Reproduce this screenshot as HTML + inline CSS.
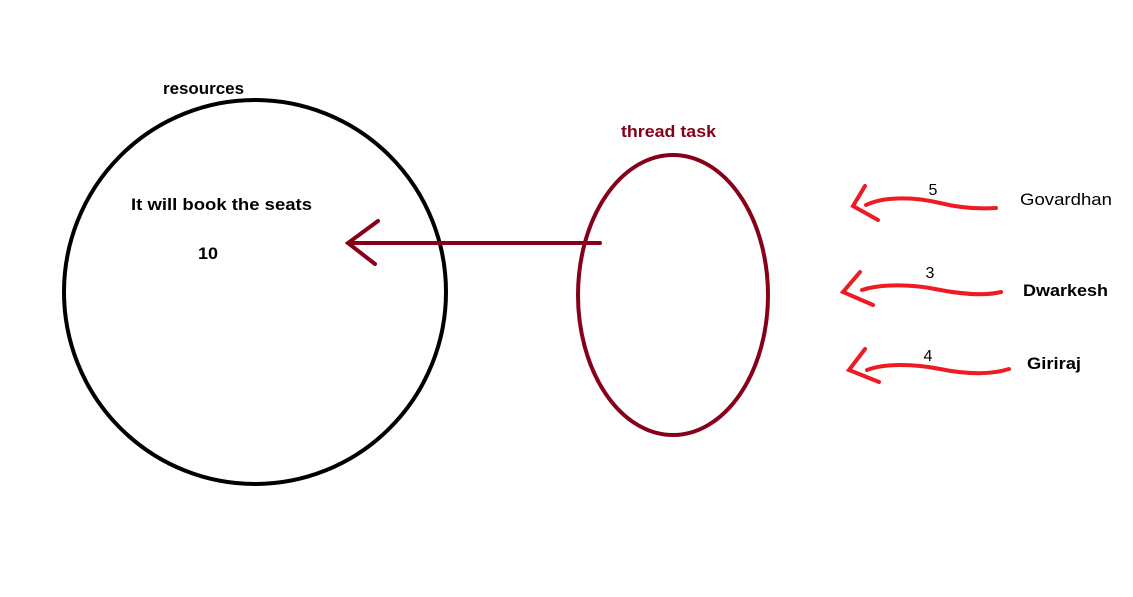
<!DOCTYPE html>
<html><head><meta charset="utf-8"><style>
html,body{margin:0;padding:0;background:#fff;width:1133px;height:597px;overflow:hidden}
text{font-family:"Liberation Sans",sans-serif}
</style></head><body>
<svg width="1133" height="597" viewBox="0 0 1133 597">
<ellipse cx="255" cy="292" rx="191" ry="192" fill="none" stroke="#000" stroke-width="4"/>
<text x="163" y="94" textLength="81" lengthAdjust="spacingAndGlyphs" font-size="17" font-weight="bold">resources</text>
<text x="131" y="210" textLength="181" lengthAdjust="spacingAndGlyphs" font-size="17" font-weight="bold">It will book the seats</text>
<text x="198" y="259" textLength="20" lengthAdjust="spacingAndGlyphs" font-size="17" font-weight="bold">10</text>
<ellipse cx="673" cy="295" rx="95" ry="140" fill="none" stroke="#850018" stroke-width="4"/>
<text x="621" y="137" textLength="95" lengthAdjust="spacingAndGlyphs" font-size="17" font-weight="bold" fill="#850018">thread task</text>
<g stroke="#850018" stroke-width="4" fill="none" stroke-linecap="round">
<path d="M600 243 L348 243 M378 221 L348 243 L375 264"/>
</g>
<g stroke="#ed1c24" stroke-width="4" fill="none" stroke-linecap="round">
<path d="M865 186 L853 206 L878 220 M866 205 C885 196 915 197 940 203 C960 208 980 209 996 208"/>
<path d="M860 272 L843 292 L873 305 M862 290 C880 284 910 284 935 289 C960 294 985 296 1001 292"/>
<path d="M865 349 L849 370 L879 382 M867 370 C885 363 915 364 940 369 C965 374 990 375 1009 369"/>
</g>
<text x="933" y="195" text-anchor="middle" font-size="16">5</text>
<text x="930" y="278" text-anchor="middle" font-size="16">3</text>
<text x="928" y="361" text-anchor="middle" font-size="16">4</text>
<text x="1020" y="205" textLength="92" lengthAdjust="spacingAndGlyphs" font-size="17">Govardhan</text>
<text x="1023" y="296" textLength="85" lengthAdjust="spacingAndGlyphs" font-size="17" font-weight="bold">Dwarkesh</text>
<text x="1027" y="369" textLength="54" lengthAdjust="spacingAndGlyphs" font-size="17" font-weight="bold">Giriraj</text>
</svg>
</body></html>
